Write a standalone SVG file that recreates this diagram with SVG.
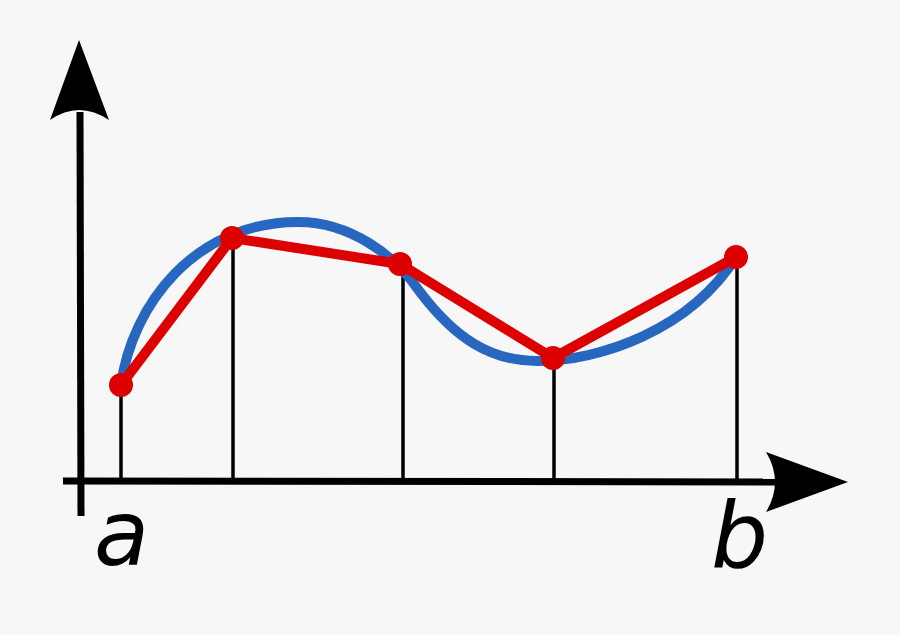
<svg xmlns="http://www.w3.org/2000/svg" width="900" height="635" viewBox="0 0 900 635">
  <style>
    .axis { stroke: #000; stroke-width: 7; fill: none; }
    .tick { stroke: #000; stroke-width: 3.5; fill: none; }
    .curve { stroke: #2767c0; stroke-width: 10; fill: none; stroke-linecap: round; }
    .poly { stroke: #dd0000; stroke-width: 10; fill: none; stroke-linejoin: round; }
    .pt { fill: #dd0000; }
    .lbl { font-family: "DejaVu Sans", "Liberation Sans", sans-serif; font-style: oblique; font-size: 90px; fill: #000; }
  </style>
  <rect width="900" height="635" fill="#f7f7f7"/>
  <g id="axes">
    <path class="axis" d="M80,112 L81,516"/>
    <path class="axis" d="M63,481 L780,482"/>
    <path d="M79,40 L109,120 Q79,100 50,120 Z" fill="#000"/>
    <path d="M848,482 L766,512 Q784,482 766,452 Z" fill="#000"/>
  </g>
  <g id="connectors">
    <path class="tick" d="M121,385 V481"/>
    <path class="tick" d="M233,238 V481"/>
    <path class="tick" d="M403,264 V481"/>
    <path class="tick" d="M554,358 V481"/>
    <path class="tick" d="M737,257 V481"/>
  </g>
  <g id="curve">
    <path class="curve" d="M121,385 C132,305 195,222 298,222 C350,222 395,255 420,292 C455,338 490,361 537,361 C600,361 690,330 736,257"/>
  </g>
  <g id="polyline">
    <path class="poly" d="M121,385 L232,238 L400,264 L553,358 L736,257"/>
  </g>
  <g id="points">
    <circle class="pt" cx="121" cy="385" r="12"/>
    <circle class="pt" cx="232" cy="238" r="12"/>
    <circle class="pt" cx="400" cy="264" r="12"/>
    <circle class="pt" cx="553" cy="358" r="12"/>
    <circle class="pt" cx="736" cy="257" r="12"/>
  </g>
  <g id="label-a"><text class="lbl" x="94" y="565">a</text></g>
  <g id="label-b"><text class="lbl" x="711" y="567">b</text></g>
</svg>
